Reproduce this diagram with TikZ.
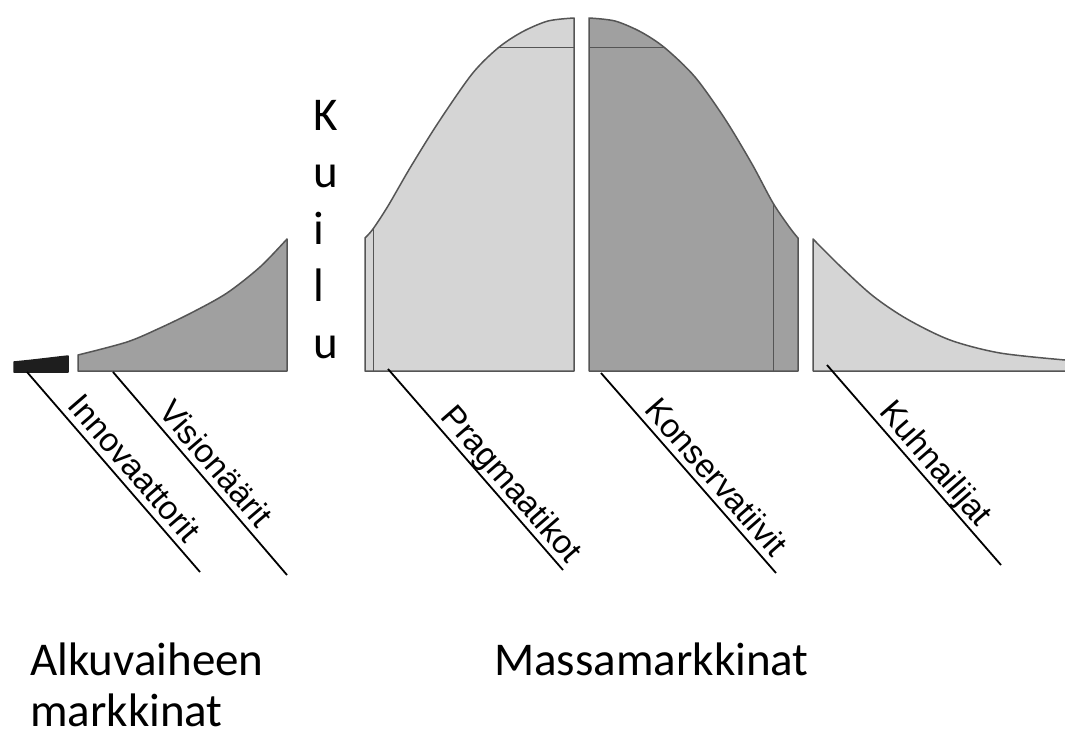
\documentclass[tikz,border=0pt]{standalone}
\usepackage{fontspec}
\setmainfont{Carlito}
\newfontfamily\arialfont{Liberation Sans}
\usetikzlibrary{calc}
\definecolor{edge}{HTML}{555555}
\definecolor{lightfill}{HTML}{D5D5D5}
\definecolor{darkfill}{HTML}{A0A0A0}
\definecolor{innofill}{HTML}{1E1E1E}

\begin{document}
\begin{tikzpicture}[
  x=1pt, y=-1pt,
  part/.style={draw=edge, line width=1.5pt, line join=round},
  lightpart/.style={part, fill=lightfill},
  darkpart/.style={part, fill=darkfill},
  inner/.style={draw=edge, line width=0.8pt},
  leader/.style={draw=black, line width=1.8pt},
  seglabel/.style={sloped, above, inner sep=0pt, outer sep=7pt, text depth=0pt,
                   font=\arialfont\fontsize{33}{40}\selectfont},
  chasm/.style={anchor=base west, inner sep=0pt, font=\fontsize{47}{57}\selectfont},
  market/.style={anchor=base west, inner sep=0pt, align=left,
                 font=\fontsize{47}{51}\selectfont}
]
\useasboundingbox (0,0) rectangle (1065,736);

% the bell curve, cut at the chasm
\path[part, fill=innofill, draw=innofill] (14,372) -- (14,362)
  .. controls (35,360) and (50,358) .. (68,356) -- (68,372) -- cycle;
\path[darkpart] (78,371) -- plot[smooth] coordinates
  {(78,355) (127,342) (160,328) (193,312) (227,293) (260,267) (287,239)}
  -- (287,371) -- cycle;
\path[lightpart] (365,371) -- plot[smooth] coordinates
  {(365,238) (373,229) (388,206) (410,168) (438,123) (472,74) (498,48)
   (522,32) (548,21) (574,18)} -- (574,371) -- cycle;
\path[darkpart] (589,371) -- (589,18) -- plot[smooth] coordinates
  {(589,18) (615,21) (641,32) (665,48) (695,77) (725,119) (752,164)
   (773,203) (790,228) (798,238)} -- (798,371) -- cycle;
\fill[lightfill] (813,371) -- plot[smooth] coordinates
  {(813,239) (840,266) (873,296) (907,319) (950,340) (1000,353) (1065,360)}
  -- (1065,371) -- cycle;
\draw[part] (1065,371) -- (813,371) -- plot[smooth] coordinates
  {(813,239) (840,266) (873,296) (907,319) (950,340) (1000,353) (1065,360)};

% grid lines inside the pieces
\draw[inner] (373,229) -- (373,371);
\draw[inner] (498,47) -- (574,47);
\draw[inner] (589,47) -- (665,47);
\draw[inner] (773,203) -- (773,371);

% chasm
\foreach \ch [count=\i] in {K,u,i,l,u}
  \node[chasm] (kuilu\i) at (313, {73+57*\i}) {\ch};

% leader lines and group labels
\coordinate (inno-foot) at (27,372);  \coordinate (inno-tip) at (200,572);
\coordinate (visi-foot) at (113,372); \coordinate (visi-tip) at (287,575);
\coordinate (prag-foot) at (388,369); \coordinate (prag-tip) at (563,570);
\coordinate (kons-foot) at (601,373); \coordinate (kons-tip) at (776,573);
\coordinate (kuhn-foot) at (827,365); \coordinate (kuhn-tip) at (1001,565);

\draw[leader] (inno-foot) -- (inno-tip) node[seglabel, pos=0.54] (inno-lab) {Innovaattorit};
\draw[leader] (visi-foot) -- (visi-tip) node[seglabel, pos=0.51] (visi-lab) {Visionäärit};
\draw[leader] (prag-foot) -- (prag-tip) node[seglabel, pos=0.63] (prag-lab) {Pragmaatikot};
\draw[leader] (kons-foot) -- (kons-tip) node[seglabel, pos=0.58] (kons-lab) {Konservatiivit};
\draw[leader] (kuhn-foot) -- (kuhn-tip) node[seglabel, pos=0.55] (kuhn-lab) {Kuhnailijat};

% markets
\node[market] (early) at (30,726) {Alkuvaiheen\\markkinat};
\node[market] (mass)  at (494,675) {Massamarkkinat};
\end{tikzpicture}
\end{document}
